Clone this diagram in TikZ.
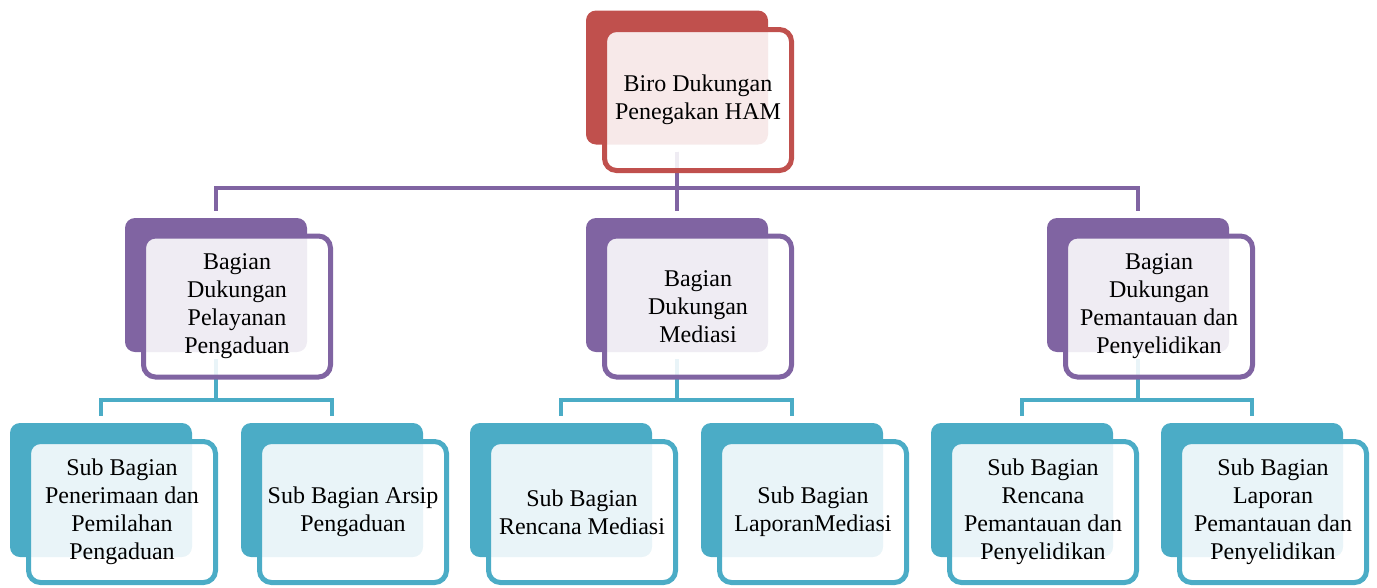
\documentclass[tikz,border=0pt]{standalone}
\usepackage{fontspec}
\setmainfont{Liberation Serif}
\definecolor{cred}{HTML}{C0504D}
\definecolor{cpur}{HTML}{8064A2}
\definecolor{cteal}{HTML}{4BACC6}
\begin{document}
\begin{tikzpicture}[x=1pt,y=-1pt,
 backbox/.style={rectangle, rounded corners=10pt, fill=#1, minimum width=182pt, minimum height=134pt, inner sep=0pt},
 frontbox/.style={rectangle, rounded corners=12pt, draw=#1, line width=5pt, fill=white, fill opacity=0.88, text opacity=1, minimum width=187pt, minimum height=141pt, inner sep=0pt, align=center, font=\fontsize{24}{28}\selectfont},
 conn/.style={line width=4.5pt, draw=#1, shorten <=7pt, shorten >=7pt}
]
\useasboundingbox (0,0) rectangle (1377,587);

% back boxes
\node[backbox=cred] (topB) at (677,77.5) {};
\node[backbox=cpur] (m1B) at (216,285) {};
\node[backbox=cpur] (m2B) at (677,285) {};
\node[backbox=cpur] (m3B) at (1138,285) {};
\node[backbox=cteal] (s1B) at (101,490) {};
\node[backbox=cteal] (s2B) at (332,490) {};
\node[backbox=cteal] (s3B) at (561,490) {};
\node[backbox=cteal] (s4B) at (792,490) {};
\node[backbox=cteal] (s5B) at (1022,490) {};
\node[backbox=cteal] (s6B) at (1252,490) {};

% junction coordinates
\coordinate (j0) at (677,188);
\coordinate (j1) at (216,400);
\coordinate (j2) at (677,400);
\coordinate (j3) at (1138,400);

% connectors
\draw[conn=cpur] (topB.south) -- (j0) -| (m1B.north);
\draw[conn=cpur] (topB.south) -- (j0) -| (m2B.north);
\draw[conn=cpur] (topB.south) -- (j0) -| (m3B.north);
\draw[conn=cteal] (m1B.south) -- (j1) -| (s1B.north);
\draw[conn=cteal] (m1B.south) -- (j1) -| (s2B.north);
\draw[conn=cteal] (m2B.south) -- (j2) -| (s3B.north);
\draw[conn=cteal] (m2B.south) -- (j2) -| (s4B.north);
\draw[conn=cteal] (m3B.south) -- (j3) -| (s5B.north);
\draw[conn=cteal] (m3B.south) -- (j3) -| (s6B.north);

% front boxes
\node[frontbox=cred] (top) at (698,100) {Biro Dukungan\\Penegakan HAM};
\node[frontbox=cpur] (m1) at (237,306.5) {Bagian\\Dukungan\\Pelayanan\\Pengaduan};
\node[frontbox=cpur] (m2) at (698,306.5) {Bagian\\Dukungan\\Mediasi};
\node[frontbox=cpur] (m3) at (1159,306.5) {Bagian\\Dukungan\\Pemantauan dan\\Penyelidikan};
\node[frontbox=cteal] (s1) at (122,512) {Sub Bagian\\Penerimaan dan\\Pemilahan\\Pengaduan};
\node[frontbox=cteal] (s2) at (353,512) {Sub Bagian Arsip\\Pengaduan};
\node[frontbox=cteal] (s3) at (582,512) {Sub Bagian\\Rencana Mediasi};
\node[frontbox=cteal] (s4) at (813,512) {Sub Bagian\\LaporanMediasi};
\node[frontbox=cteal] (s5) at (1043,512) {Sub Bagian\\Rencana\\Pemantauan dan\\Penyelidikan};
\node[frontbox=cteal] (s6) at (1273,512) {Sub Bagian\\Laporan\\Pemantauan dan\\Penyelidikan};
\end{tikzpicture}
\end{document}
